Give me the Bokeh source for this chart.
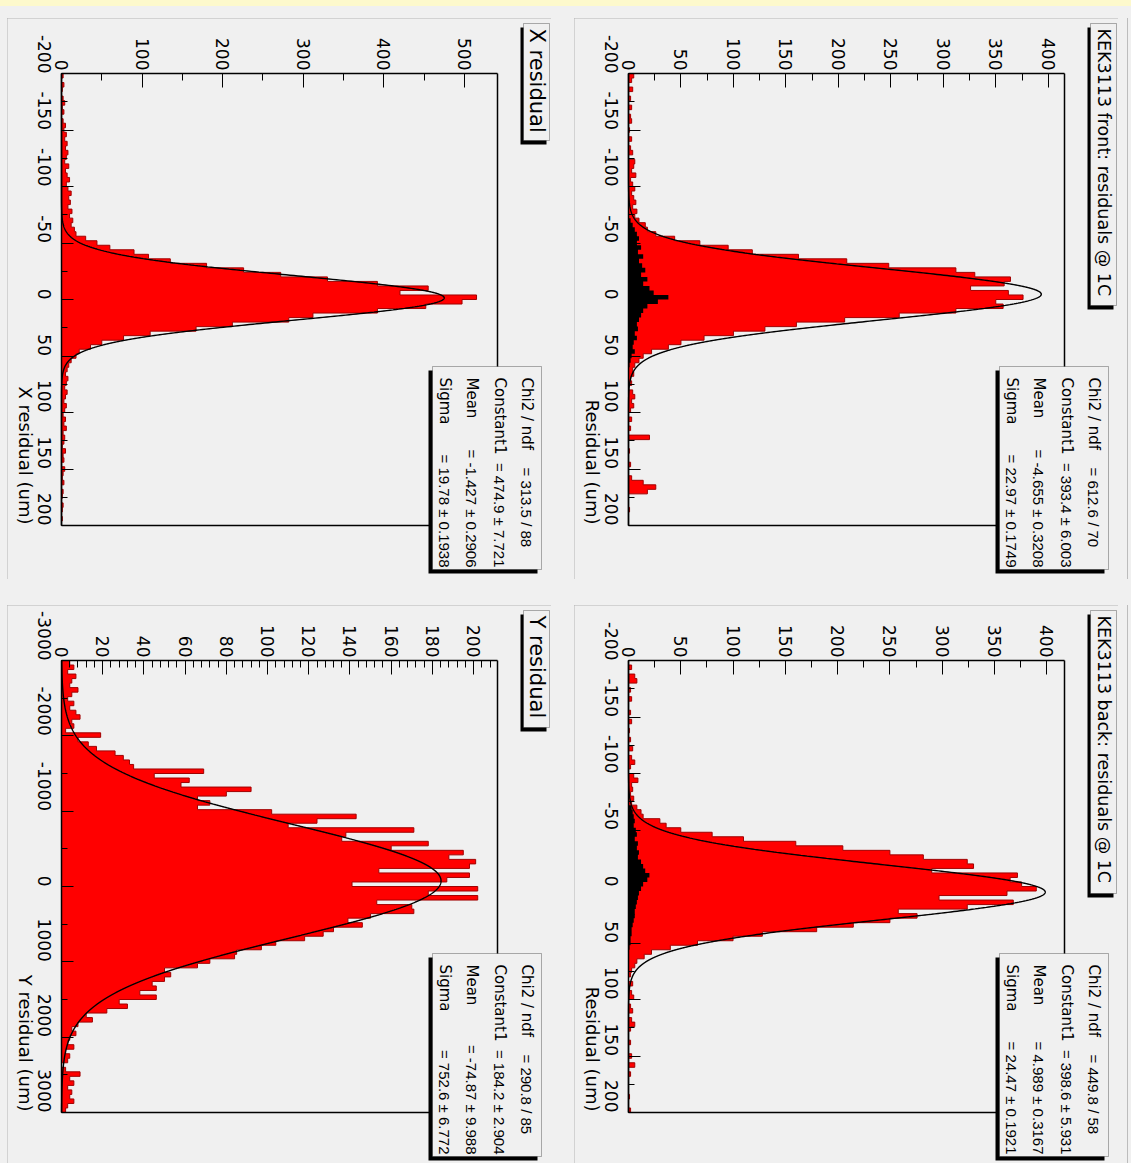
import math
import numpy as np
from bokeh.plotting import figure
from bokeh.models import (Range1d, FixedTicker, LinearAxis, Label, BoxAnnotation, Div, Spacer,
                          PrintfTickFormatter)
from bokeh.layouts import column, row
from bokeh.embed import file_html
from bokeh.resources import INLINE

FONT = "DejaVu Sans"
STAT_FONT = "Liberation Sans"
BG = "#f0f0f0"

# ---------------- data ----------------
front_counts = [5, 3, 0, 4, 0, 2, 0, 3, 0, 2,
                3, 0, 1, 0, 3, 0, 2, 4, 0, 6,
                5, 3, 7, 2, 4, 6, 3, 5, 7, 4,
                8, 6, 10, 16, 18, 26, 44, 68, 95, 118,
                162, 208, 248, 312, 330, 364, 358, 326, 362, 376,
                350, 357, 312, 258, 206, 160, 130, 100, 72, 50,
                38, 22, 14, 10, 6, 4, 5, 2, 3, 0,
                4, 6, 3, 5, 2, 0, 3, 0, 2, 0,
                20, 0, 0, 1, 0, 0, 2, 0, 0, 3,
                14, 26, 18, 0, 0, 0, 1, 0, 0, 0]
front_black = [0] * 32 + [2, 4, 6, 8, 10, 8, 12, 9, 14, 10, 13, 16, 12, 18, 14, 20, 24, 38,
                          28, 18, 14, 12, 10, 8, 9, 6, 8, 5, 4, 6, 3, 2, 1, 0, 0] + [0] * 33

back_counts = [0, 3, 0, 6, 8, 0, 2, 0, 3, 0,
               0, 2, 0, 3, 0, 1, 0, 2, 0, 4,
               0, 3, 6, 2, 0, 5, 9, 3, 4, 2,
               5, 3, 8, 12, 14, 30, 36, 50, 80, 110,
               160, 205, 250, 282, 324, 330, 290, 372, 365, 376,
               390, 362, 297, 368, 324, 258, 276, 250, 215, 180,
               128, 100, 66, 40, 22, 15, 8, 6, 3, 2,
               0, 4, 0, 3, 5, 0, 2, 4, 0, 3,
               6, 2, 0, 0, 2, 0, 0, 3, 0, 6,
               0, 2, 0, 0, 0, 0, 1, 0, 0, 2]
back_black = [0] * 32 + [3, 4, 5, 6, 5, 7, 8, 6, 9, 8, 10, 9, 12, 14, 16, 20, 18, 14, 12, 10,
                         9, 8, 7, 6, 6, 5, 4, 3, 3, 2, 2, 1] + [0] * 36

xres_counts = [2, 0, 3, 1, 0, 2, 4, 1, 3, 0,
               2, 5, 3, 6, 4, 7, 5, 8, 6, 4,
               9, 5, 7, 10, 6, 8, 12, 9, 11, 8,
               13, 10, 14, 12, 16, 18, 30, 44, 60, 90,
               108, 135, 180, 226, 272, 330, 392, 455, 420, 515,
               497, 452, 392, 312, 282, 212, 167, 110, 77, 50,
               36, 22, 18, 12, 9, 7, 5, 8, 6, 4,
               7, 5, 3, 6, 4, 2, 5, 3, 6, 2,
               4, 3, 1, 5, 2, 3, 0, 4, 2, 1,
               3, 0, 2, 1, 0, 2, 1, 0, 1, 0]

yres_counts = [4, 6, 3, 7, 5, 4, 8, 5, 3, 6,
               4, 7, 9, 5, 6, 2, 19, 8, 13, 17,
               26, 30, 33, 35, 69, 45, 62, 58, 92, 80,
               66, 72, 66, 102, 143, 124, 110, 171, 138, 136,
               178, 160, 195, 188, 201, 198, 154, 198, 187, 141,
               202, 178, 202, 153, 170, 171, 150, 139, 146, 132,
               127, 118, 104, 97, 85, 84, 72, 66, 50, 53,
               50, 44, 46, 38, 46, 28, 32, 22, 12, 15,
               8, 5, 7, 4, 3, 6, 2, 4, 3, 0,
               2, 9, 4, 6, 3, 5, 4, 6, 3, 2]

# gaussian fit parameters (constant, mean, sigma) shown in the stat boxes
front_fit = [393.4, -4.655, 22.97]
back_fit = [398.6, 4.989, 24.47]
xres_fit = [474.9, -1.427, 19.78]
yres_fit = [184.2, -74.87, 752.6]

front_stats = [("Chi2 / ndf", "= 612.6 / 70"), ("Constant1", "= 393.4 \u00b1 6.003"),
               ("Mean", "= -4.655 \u00b1 0.3208"), ("Sigma", "= 22.97 \u00b1 0.1749")]
back_stats = [("Chi2 / ndf", "= 449.8 / 58"), ("Constant1", "= 398.6 \u00b1 5.931"),
              ("Mean", "= 4.989 \u00b1 0.3167"), ("Sigma", "= 24.47 \u00b1 0.1921")]
xres_stats = [("Chi2 / ndf", "= 313.5 / 88"), ("Constant1", "= 474.9 \u00b1 7.721"),
              ("Mean", "= -1.427 \u00b1 0.2906"), ("Sigma", "= 19.78 \u00b1 0.1938")]
yres_stats = [("Chi2 / ndf", "= 290.8 / 85"), ("Constant1", "= 184.2 \u00b1 2.904"),
              ("Mean", "= -74.87 \u00b1 9.988"), ("Sigma", "= 752.6 \u00b1 6.772")]

res_ticks_small = [-200, -150, -100, -50, 0, 50, 100, 150, 200]
res_minor_small = [-175, -125, -75, -25, 25, 75, 125, 175]
res_ticks_big = [-3000, -2000, -1000, 0, 1000, 2000, 3000]
res_minor_big = [-2500, -1500, -500, 500, 1500, 2500]
cnt_ticks_400 = [0, 50, 100, 150, 200, 250, 300, 350, 400]
cnt_minor_400 = [25, 75, 125, 175, 225, 275, 325, 375]
cnt_ticks_500 = [0, 100, 200, 300, 400, 500]
cnt_minor_500 = [50, 150, 250, 350, 450]
cnt_ticks_200 = [0, 20, 40, 60, 80, 100, 120, 140, 160, 180, 200]
cnt_minor_200 = [v for v in range(4, 212, 4) if v % 20 != 0]

# ---------------- geometry of one pad (pixels) ----------------
PAD_W = 544
FL, FT, FW, FH = 54, 55, 436, 452


def make_pad(height, title, title_size, title_end, counts, black, lo, hi, xmax, fit, stats,
             xt, xm, yt, ym, xtitle):
    nb = len(counts)
    w = (hi - lo) / nb
    edges = [lo + w * i for i in range(nb + 1)]

    def dx(px):
        return (px - FL) / FW * xmax

    def dy(py):
        return lo + (py - FT) / FH * (hi - lo)

    p = figure(width=PAD_W, height=height,
               x_range=Range1d(dx(0), dx(PAD_W)), y_range=Range1d(dy(height), dy(0)),
               x_axis_location="above", y_axis_location="left",
               output_backend="svg", toolbar_location=None,
               min_border_left=0, min_border_top=0, min_border_right=0, min_border_bottom=0,
               background_fill_color=BG, border_fill_color=BG)
    p.outline_line_color = None
    p.grid.visible = False
    p.styles = {"outline": "1px solid #b4b4b4", "outline-offset": "-1px"}

    xa = p.xaxis[0]
    xa.fixed_location = lo
    xa.bounds = (0, xmax)
    xa.ticker = FixedTicker(ticks=xt, minor_ticks=xm)
    xa.major_label_orientation = -math.pi / 2
    xa.major_tick_in, xa.major_tick_out = 14, 0
    xa.minor_tick_in, xa.minor_tick_out = 7, 0
    xa.major_label_standoff = 3
    ya = p.yaxis[0]
    ya.fixed_location = 0
    ya.bounds = (lo, hi)
    ya.ticker = FixedTicker(ticks=yt, minor_ticks=ym)
    ya.major_label_orientation = -math.pi / 2
    ya.major_tick_in, ya.major_tick_out = 12, 0
    ya.minor_tick_in, ya.minor_tick_out = 6, 0
    ya.major_label_standoff = 17
    for a in (xa, ya):
        a.formatter = PrintfTickFormatter(format="%d")
        a.major_label_text_font = FONT
        a.major_label_text_font_size = "17px"
        a.major_label_text_color = "black"
        a.axis_line_color = "black"
        a.axis_line_width = 1.5
        a.major_tick_line_color = "black"
        a.minor_tick_line_color = "black"
    # right and bottom edges of the frame
    ra = LinearAxis(fixed_location=xmax, bounds=(lo, hi), ticker=FixedTicker(ticks=[]),
                    axis_line_color="black", axis_line_width=1.5,
                    major_tick_in=0, major_tick_out=0, minor_tick_in=0, minor_tick_out=0,
                    major_label_text_font_size="0px")
    p.add_layout(ra, "right")
    ba = LinearAxis(fixed_location=hi, bounds=(0, xmax), ticker=FixedTicker(ticks=[]),
                    axis_line_color="black", axis_line_width=1.5,
                    major_tick_in=0, major_tick_out=0, minor_tick_in=0, minor_tick_out=0,
                    major_label_text_font_size="0px")
    p.add_layout(ba, "below")

    # histogram as a step polygon
    sx, sy = [0], [lo]
    for i, c in enumerate(counts):
        sx += [c, c]
        sy += [edges[i], edges[i + 1]]
    sx.append(0)
    sy.append(hi)
    p.patch(sx, sy, fill_color="#ff0000", line_color=None)
    p.line(sx, sy, line_color="#a00000", line_width=1)
    if black is not None:
        bx, by = [0], [lo]
        for i, c in enumerate(black):
            bx += [c, c]
            by += [edges[i], edges[i + 1]]
        bx.append(0)
        by.append(hi)
        p.patch(bx, by, fill_color="black", line_color=None)
    r = np.linspace(lo, hi, 1200)
    C, m, s = fit
    g = C * np.exp(-0.5 * ((r - m) / s) ** 2)
    p.line(g, r, line_color="black", line_width=1.4)

    # title box (with shadow)
    p.add_layout(BoxAnnotation(left=dx(513), right=dx(539), top=dy(9), bottom=dy(title_end + 4),
                               fill_color="black", fill_alpha=1, line_color=None, level="overlay"))
    p.add_layout(BoxAnnotation(left=dx(516), right=dx(542), top=dy(5), bottom=dy(title_end),
                               fill_color=BG, fill_alpha=1, line_color="black", line_width=1, level="overlay"))
    p.add_layout(Label(x=dx(529.5), y=dy(10), text=title, angle=-math.pi / 2,
                       text_font=FONT, text_font_size=title_size, text_align="left",
                       text_baseline="middle", text_color="black", level="overlay"))

    # stat box (with shadow)
    p.add_layout(BoxAnnotation(left=dx(421), right=dx(530), top=dy(352), bottom=dy(555),
                               fill_color="black", fill_alpha=1, line_color=None, level="overlay"))
    p.add_layout(BoxAnnotation(left=dx(425), right=dx(534), top=dy(348), bottom=dy(551),
                               fill_color=BG, fill_alpha=1, line_color="black", line_width=1, level="overlay"))
    line_x = [519, 492, 464, 437]
    for k, ((name, val), lx) in enumerate(zip(stats, line_x)):
        p.add_layout(Label(x=dx(lx), y=dy(359), text=name, angle=-math.pi / 2,
                           text_font=FONT, text_font_size="15px", text_align="left",
                           text_baseline="middle", text_color="black", level="overlay"))
        if k == 0:
            p.add_layout(Label(x=dx(lx), y=dy(449), text=val, angle=-math.pi / 2,
                               text_font=STAT_FONT, text_font_size="15px", text_align="left",
                               text_baseline="middle", text_color="black", level="overlay"))
        else:
            p.add_layout(Label(x=dx(lx), y=dy(549), text=val, angle=-math.pi / 2,
                               text_font=STAT_FONT, text_font_size="15px", text_align="right",
                               text_baseline="middle", text_color="black", level="overlay"))

    # axis title (right-aligned to the end of the residual axis)
    p.add_layout(Label(x=dx(18), y=dy(FT + FH - 1), text=xtitle, angle=-math.pi / 2,
                       text_font=FONT, text_font_size="18px", text_align="right",
                       text_baseline="middle", text_color="black", level="overlay"))
    return p


p_x = make_pad(561, "X residual", "21px", 122, xres_counts, None, -200, 200, 541, xres_fit, xres_stats,
               cnt_ticks_500, cnt_minor_500, res_ticks_small, res_minor_small, "X residual (um)")
p_front = make_pad(561, "KEK3113 front: residuals @ 1C", "17.5px", 287, front_counts, front_black,
                   -200, 200, 415.5, front_fit, front_stats,
                   cnt_ticks_400, cnt_minor_400, res_ticks_small, res_minor_small, "Residual (um)")
p_y = make_pad(558, "Y residual", "21px", 122, yres_counts, None, -3000, 3000, 211.6, yres_fit, yres_stats,
               cnt_ticks_200, cnt_minor_200, res_ticks_big, res_minor_big, "Y residual (um)")
p_back = make_pad(558, "KEK3113 back: residuals @ 1C", "17.5px", 288, back_counts, back_black,
                  -200, 200, 417, back_fit, back_stats,
                  cnt_ticks_400, cnt_minor_400, res_ticks_small, res_minor_small, "Residual (um)")


def vline(h):
    return Div(text="", width=1, height=h, margin=(0, 0, 0, 0), styles={"background-color": "#bcbcbc"})


layout = column(
    Div(text="", width=1131, height=6, margin=(0, 0, 0, 0), styles={"background-color": "#fdf9cc"}),
    Spacer(width=1131, height=12),
    row(Spacer(width=7, height=561), p_x, Spacer(width=23, height=561), p_front,
        Spacer(width=9, height=561), vline(561), Spacer(width=3, height=561)),
    Spacer(width=1131, height=26),
    row(Spacer(width=7, height=558), p_y, Spacer(width=23, height=558), p_back,
        Spacer(width=9, height=558), vline(558), Spacer(width=3, height=558)),
    styles={"background-color": BG},
)

open("out.html", "w").write(file_html(layout, INLINE))
